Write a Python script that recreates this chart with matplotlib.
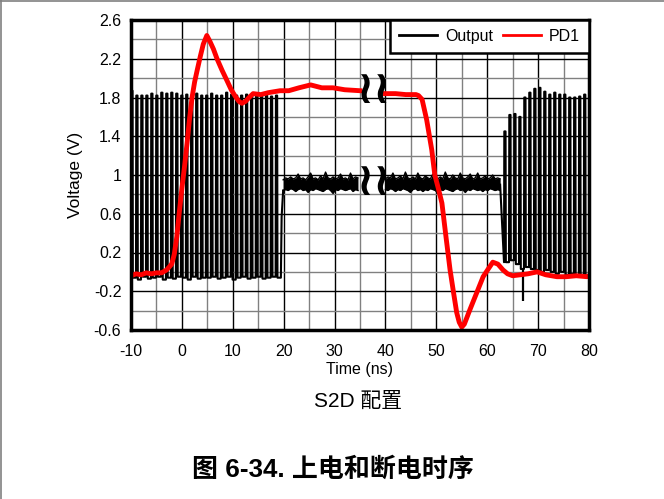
import numpy as np
import matplotlib
matplotlib.use("Agg")
import matplotlib.pyplot as plt
from matplotlib.ticker import FixedLocator, MultipleLocator
from matplotlib.lines import Line2D

plt.rcParams['font.family'] = ['Liberation Sans', 'Noto Sans CJK SC', 'DejaVu Sans']

# ---------------- data ----------------
x_ticks = [-10, 0, 10, 20, 30, 40, 50, 60, 70, 80]
x_tick_labels = ["-10", "0", "10", "20", "30", "40", "50", "60", "70", "80"]
y_ticks = [-0.6, -0.2, 0.2, 0.6, 1.0, 1.4, 1.8, 2.2, 2.6]
y_tick_labels = ["-0.6", "-0.2", "0.2", "0.6", "1", "1.4", "1.8", "2.2", "2.6"]

# PD1 (red) before the time break
pd1_t1 = [-10, -9, -8, -7, -6, -5, -4, -3, -2, -1.5, -1, -0.5, 0, 0.5, 1, 1.5, 2,
          2.5, 3, 3.6, 4.2, 4.9, 5.5, 6.2, 6.9, 7.9, 8.9, 9.7, 10.4, 11.2, 11.8,
          12.5, 13.2, 14, 15.5, 17, 19.3, 21, 23, 25.3, 27.5, 29.7, 32, 35]
pd1_v1 = [-0.04, -0.02, -0.03, -0.01, -0.02, -0.01, -0.01, 0.02, 0.08, 0.18, 0.36,
          0.62, 0.86, 1.08, 1.32, 1.58, 1.8, 1.96, 2.08, 2.22, 2.35, 2.44, 2.38,
          2.3, 2.2, 2.08, 1.97, 1.88, 1.82, 1.76, 1.74, 1.76, 1.8, 1.84, 1.83,
          1.85, 1.87, 1.87, 1.9, 1.93, 1.9, 1.9, 1.88, 1.87]
# PD1 (red) after the time break
pd1_t2 = [40, 42, 44, 46, 46.5, 47.2, 48.1, 49.1, 49.7, 50.4, 51.1, 51.9, 52.7,
          53.4, 54.0, 54.5, 55.0, 55.5, 56.6, 57.9, 59.2, 60.2, 61.1, 62.1, 63.1,
          64, 65, 66.5, 68, 69.8, 71.5, 73.7, 75.5, 77.5, 79.6, 80]
pd1_v2 = [1.84, 1.84, 1.83, 1.83, 1.82, 1.78, 1.57, 1.26, 1.0, 0.86, 0.71, 0.36,
          0.02, -0.22, -0.42, -0.52, -0.57, -0.54, -0.39, -0.22, -0.05, 0.03,
          0.1, 0.08, 0.02, -0.02, -0.04, -0.03, -0.02, 0.0, -0.03, -0.05, -0.05,
          -0.04, -0.05, -0.04]

# Output (black): clock bursts, per-cycle high / low levels
clk_period = 0.98
left_start = -10.0
left_high = [1.87, 1.82, 1.82, 1.82, 1.84, 1.82, 1.85, 1.84, 1.85, 1.84, 1.82, 1.83,
             1.82, 1.84, 1.82, 1.82, 1.84, 1.82, 1.82, 1.85, 1.83, 1.82, 1.82, 1.83,
             1.82, 1.82, 1.83, 1.82, 1.81, 1.82]
left_low = [-0.06, -0.08, -0.05, -0.07, -0.06, -0.05, -0.08, -0.06, -0.07, -0.05,
            -0.06, -0.08, -0.05, -0.07, -0.06, -0.06, -0.05, -0.07, -0.06, -0.05,
            -0.08, -0.06, -0.05, -0.07, -0.06, -0.05, -0.07, -0.06, -0.05, -0.06]
left_tail_t = [19.45, 19.6, 19.9]
left_tail_v = [-0.06, 0.57, 0.84]

right_start = 63.3
right_high = [1.45, 1.62, 1.63, 1.60, 1.80, 1.85, 1.89, 1.90, 1.86, 1.83, 1.85, 1.83,
              1.83, 1.80, 1.80, 1.81, 1.83]
right_low = [0.1, 0.12, 0.08, 0.03, 0.05, 0.03, 0.02, 0.0, 0.02, 0.0, -0.02, 0.0,
             -0.03, -0.02, -0.04, -0.03, -0.05]
spike_t = [67.0]
spike_top = [0.03]
spike_bottom = [-0.3]

# Output plateau (noisy ~0.92 V): upper / lower envelope every 0.49 ns
plateau_step = 0.49
plateau_a_start = 19.9
plateau_a_up = [0.95, 0.97, 0.96, 0.98, 0.96, 0.97, 1.01, 0.96, 0.97, 0.95, 0.98,
                1.02, 0.96, 0.97, 0.95, 0.99, 0.96, 1.03, 0.97, 0.96, 0.98, 0.96,
                0.97, 1.01, 0.96, 0.97, 0.95, 1.02, 0.96, 0.98, 0.97]
plateau_a_lo = [0.84, 0.85, 0.84, 0.86, 0.85, 0.83, 0.85, 0.86, 0.84, 0.85, 0.82,
                0.85, 0.84, 0.86, 0.85, 0.84, 0.83, 0.85, 0.86, 0.84, 0.81, 0.85,
                0.84, 0.86, 0.85, 0.84, 0.85, 0.86, 0.83, 0.85, 0.84]
plateau_b_start = 40.0
plateau_b_up = [0.96, 0.98, 0.97, 1.02, 0.96, 0.97, 0.99, 0.96, 1.03, 0.97, 0.96,
                0.98, 0.96, 1.02, 0.97, 0.96, 0.99, 0.97, 0.96, 1.01, 0.97, 0.96,
                0.98, 0.96, 1.03, 0.97, 0.96, 1.0, 0.97, 0.96, 1.02, 0.97, 0.96,
                0.98, 1.01, 0.96, 0.97, 1.02, 0.96, 0.97, 0.99, 0.96, 0.97, 1.0,
                0.96, 0.97, 0.96]
plateau_b_lo = [0.85, 0.84, 0.86, 0.85, 0.83, 0.85, 0.84, 0.86, 0.85, 0.84, 0.82,
                0.85, 0.86, 0.84, 0.85, 0.83, 0.85, 0.84, 0.86, 0.85, 0.84, 0.81,
                0.85, 0.84, 0.86, 0.85, 0.84, 0.83, 0.85, 0.86, 0.84, 0.85, 0.82,
                0.85, 0.84, 0.86, 0.85, 0.84, 0.85, 0.83, 0.85, 0.84, 0.86, 0.85,
                0.84, 0.85, 0.84]

break_x = 37.7
break_y = [1.87, 0.92]


def clock_trace(t_start, period, highs, lows, rise=0.06, width=0.24):
    ts, vs = [], []
    prev_low = lows[0]
    for k, (h, l) in enumerate(zip(highs, lows)):
        t0 = t_start + k * period
        ts += [t0, t0 + rise, t0 + rise + width, t0 + 2 * rise + width]
        vs += [prev_low, h, h, l]
        prev_low = l
    return ts, vs


lt, lv = clock_trace(left_start, clk_period, left_high, left_low)
pa_t = [plateau_a_start + i * plateau_step for i in range(len(plateau_a_up))]
seg1_t = lt + left_tail_t + [pa_t[0]]
seg1_v = lv + left_tail_v + [plateau_a_lo[0]]

rt, rv = clock_trace(right_start, clk_period, right_high, right_low)
pb_t = [plateau_b_start + i * plateau_step for i in range(len(plateau_b_up))]
seg2_t = [pb_t[-1]] + rt + [80.0]
seg2_v = [0.9] + rv + [right_low[-1]]

# ---------------- figure ----------------
fig = plt.figure(figsize=(6.64, 4.99), dpi=100)
ax = fig.add_axes([131 / 664, 1 - 330 / 499, 458 / 664, 310 / 499])

LW = 1.5
out_line, = ax.plot(seg1_t, seg1_v, color='black', lw=LW, zorder=3, label='Output')
ax.plot(seg2_t, seg2_v, color='black', lw=LW, zorder=3)
for pt, up, lo in [(pa_t, plateau_a_up, plateau_a_lo), (pb_t, plateau_b_up, plateau_b_lo)]:
    ax.fill_between(pt, lo, up, color='black', lw=0, zorder=3)
    ax.plot(pt, up, color='black', lw=1.0, zorder=3)
    ax.plot(pt, lo, color='black', lw=1.0, zorder=3)
ax.vlines(spike_t, spike_bottom, spike_top, color='black', lw=1.6, zorder=3)

pd_line, = ax.plot(pd1_t1, pd1_v1, color='#ff0000', lw=3.5, zorder=4, label='PD1')
ax.plot(pd1_t2, pd1_v2, color='#ff0000', lw=3.5, zorder=4)

for by in break_y:
    ax.text(break_x, by, '≀≀', ha='center', va='center', fontsize=33,
            fontweight='bold', family='DejaVu Sans', zorder=5)

ax.set_xlim(-10, 80)
ax.set_ylim(-0.6, 2.6)
ax.xaxis.set_major_locator(FixedLocator(x_ticks))
ax.set_xticklabels(x_tick_labels)
ax.yaxis.set_major_locator(FixedLocator(y_ticks))
ax.set_yticklabels(y_tick_labels)
ax.xaxis.set_minor_locator(MultipleLocator(5))
ax.yaxis.set_minor_locator(FixedLocator([v + 0.2 for v in y_ticks[:-1]]))
ax.grid(which='major', color='black', lw=1.0, zorder=1)
ax.grid(which='minor', color='#808080', lw=1.0, zorder=1)
ax.set_axisbelow(True)
ax.tick_params(which='both', length=0, labelsize=11.5, colors='black')
ax.tick_params(axis='x', pad=10)
ax.tick_params(axis='y', pad=7)
for s in ax.spines.values():
    s.set_linewidth(2.5)
    s.set_zorder(6)

ax.set_xlabel('Time (ns)', fontsize=11.5, labelpad=2)
ax.set_ylabel('Voltage (V)', fontsize=12.5, labelpad=8)

leg = ax.legend(handles=[out_line, pd_line], loc='upper right', ncol=2,
                bbox_to_anchor=(1.0, 1.0), borderaxespad=0.0, fancybox=False,
                edgecolor='black', framealpha=1.0, fontsize=11.5,
                handlelength=2.4, columnspacing=0.6, handletextpad=0.5,
                borderpad=0.55)
leg.get_frame().set_linewidth(1.8)
leg.set_zorder(7)
for h in leg.get_lines():
    h.set_linewidth(2.0)

fig.text(358 / 664, 1 - 401 / 499, 'S2D 配置', ha='center', va='center', fontsize=15)
fig.text(333 / 664, 1 - 469 / 499, '图 6-34. 上电和断电时序', ha='center', va='center',
         fontsize=18.7, fontweight='bold')

fig.add_artist(Line2D([0, 1], [1 - 1 / 499, 1 - 1 / 499], color='#808080', lw=1.2,
                      transform=fig.transFigure))
fig.add_artist(Line2D([1 / 664, 1 / 664], [0, 1], color='#808080', lw=1.2,
                      transform=fig.transFigure))

fig.savefig('out.png', dpi=100)
